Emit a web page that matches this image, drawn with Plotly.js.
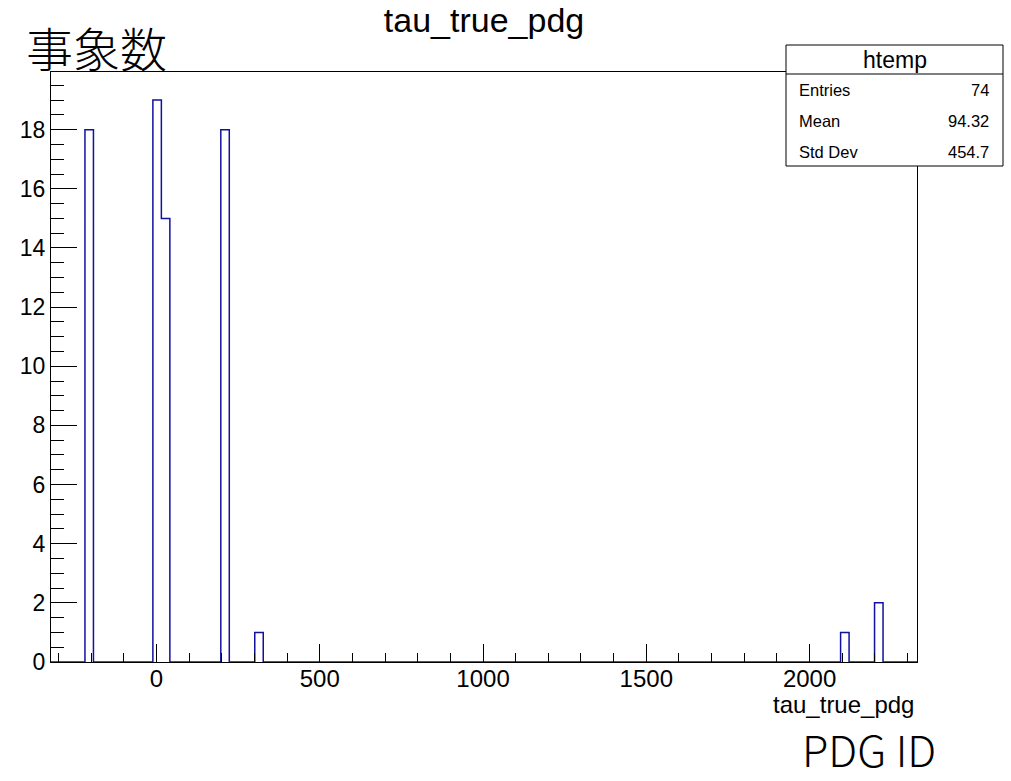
<!DOCTYPE html>
<html><head><meta charset="utf-8">
<script src="https://cdn.plot.ly/plotly-3.0.1.min.js"></script>
<style>html,body{margin:0;padding:0;background:#fff;} #chart{width:1011px;height:781px;}</style>
</head><body><div id="chart"></div>
<script>
// ---- data (ROOT htemp of tau_true_pdg) ----
const histName = "htemp";
const chartTitle = "tau_true_pdg";
const xAxisTitle = "tau_true_pdg";
const yAxisLabel = "事象数";
const xAxisLabel = "PDG ID";
const xMin = -323;
const xMax = 2329;
const binWidth = 26;
const binCenters = [-206, 2, 28, 210, 314, 2108, 2212];
const binCounts = [18, 19, 15, 18, 1, 1, 2];
const xTickVals = [0, 500, 1000, 1500, 2000];
const xTickText = ["0", "500", "1000", "1500", "2000"];
const yTickVals = [0, 2, 4, 6, 8, 10, 12, 14, 16, 18];
const yTickText = ["0", "2", "4", "6", "8", "10", "12", "14", "16", "18"];
const statLabels = ["Entries", "Mean", "Std Dev"];
const statValues = ["74", "94.32", "454.7"];

// ---- build full histogram step outline from the filled bins ----
const nBins = Math.round((xMax - xMin) / binWidth);
const counts = new Array(nBins).fill(0);
binCenters.forEach((c, i) => {
  const k = Math.floor((c - xMin) / binWidth);
  counts[k] += binCounts[i];
});
const xs = [], ys = [];
for (let k = 0; k < nBins; k++) { xs.push(xMin + k * binWidth); ys.push(counts[k]); }
xs.push(xMax); ys.push(0);

// ---- layout geometry (pixels) ----
const W = 1011, H = 781;
const L = 51, R = 917, T = 72, B = 662;
const px = x => (x - L) / (R - L);
const py = y => (B - y) / (B - T);
const FONT = "Liberation Sans, Arial, Helvetica, sans-serif";
const CJK = "Noto Sans CJK JP, Noto Sans CJK SC, sans-serif";

const trace = {
  type: "scatter", mode: "lines", x: xs, y: ys,
  line: {shape: "hv", color: "#11119f", width: 1.5},
  hoverinfo: "skip", showlegend: false
};

const box = {x0: 786, x1: 1003, y0: 45, yh: 74, y1: 166};
const rowY = [90, 121, 152];

const annotations = [
  {text: yAxisLabel, x: px(24), y: py(46), xanchor: "left", yanchor: "middle",
   font: {family: CJK, size: 47, color: "#000", weight: 300}},
  {text: xAxisLabel, x: px(937), y: py(780), xanchor: "right", yanchor: "bottom", borderpad: 0,
   font: {family: CJK, size: 43, color: "#000", weight: 300}},
  {text: xAxisTitle, x: px(916), y: py(704), xanchor: "right", yanchor: "middle",
   font: {family: FONT, size: 24, color: "#000"}},
  {text: histName, x: px((box.x0 + box.x1) / 2), y: py((box.y0 + box.yh) / 2),
   xanchor: "center", yanchor: "middle", font: {family: FONT, size: 23, color: "#000"}}
];
statLabels.forEach((s, i) => {
  annotations.push({text: s, x: px(797), y: py(rowY[i]), xanchor: "left", yanchor: "middle",
    font: {family: FONT, size: 16.5, color: "#000"}});
  annotations.push({text: statValues[i], x: px(991), y: py(rowY[i]), xanchor: "right", yanchor: "middle",
    font: {family: FONT, size: 16.5, color: "#000"}});
});
annotations.forEach(a => { a.xref = "paper"; a.yref = "paper"; a.showarrow = false; });

const shapes = [
  {type: "rect", xref: "paper", yref: "paper", x0: px(box.x0), x1: px(box.x1), y0: py(box.y0), y1: py(box.y1),
   line: {color: "#000", width: 1}, fillcolor: "#fff"},
  {type: "line", xref: "paper", yref: "paper", x0: px(box.x0), x1: px(box.x1), y0: py(box.yh), y1: py(box.yh),
   line: {color: "#000", width: 1}}
];

const layout = {
  width: W, height: H,
  margin: {l: L, r: W - R, t: T, b: H - B, pad: 0},
  paper_bgcolor: "#fff", plot_bgcolor: "#fff",
  title: {text: chartTitle, xref: "container", yref: "container", x: 484 / W, y: 1 - 20 / H,
          xanchor: "center", yanchor: "middle", font: {family: FONT, size: 34, color: "#000"}},
  xaxis: {range: [xMin, xMax], showgrid: false, zeroline: false, showline: true, mirror: true,
          linecolor: "#000", linewidth: 1, ticks: "inside", ticklen: 18, tickwidth: 1, tickcolor: "#000",
          tickmode: "array", tickvals: xTickVals, ticktext: xTickText, ticklabelstandoff: -5,
          tickfont: {family: FONT, size: 24, color: "#000"},
          minor: {tickmode: "linear", tick0: 0, dtick: 100, ticks: "inside", ticklen: 9, tickcolor: "#000", tickwidth: 1, showgrid: false}},
  yaxis: {range: [0, 19.95], showgrid: false, zeroline: false, showline: true, mirror: true,
          linecolor: "#000", linewidth: 1, ticks: "inside", ticklen: 26, tickwidth: 1, tickcolor: "#000",
          tickmode: "array", tickvals: yTickVals, ticktext: yTickText,
          tickfont: {family: FONT, size: 23, color: "#000"},
          minor: {tickmode: "linear", tick0: 0, dtick: 0.5, ticks: "inside", ticklen: 13, tickcolor: "#000", tickwidth: 1, showgrid: false}},
  shapes: shapes,
  annotations: annotations
};

Plotly.newPlot("chart", [trace], layout, {displayModeBar: false, staticPlot: true});
</script>
</body></html>
